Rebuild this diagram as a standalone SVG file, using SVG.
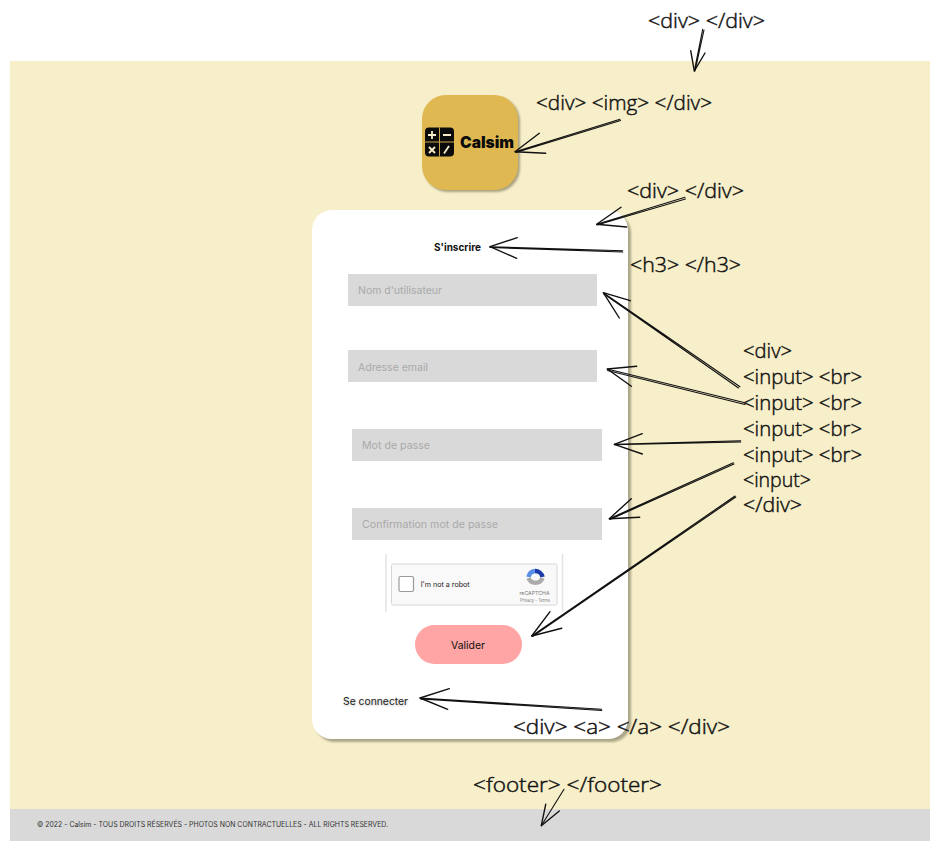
<svg xmlns="http://www.w3.org/2000/svg" width="939" height="850" viewBox="0 0 939 850">
<style>
text{font-family:"Inter","Liberation Sans",sans-serif}
.hand{font-family:"Open Sans","DejaVu Sans",sans-serif;font-size:20px;font-weight:300;fill:#111;stroke:#111;stroke-width:.45}
.ph{font-size:10.5px;fill:#a9a9a9}
.input{fill:#d9d9d9}
.conn path{fill:none;stroke:#111;stroke-linecap:round;stroke-linejoin:round}
.shaft{stroke-width:1.1}
.head{stroke-width:1.4}
</style>
<defs>
<filter id="soft" x="-20%" y="-20%" width="140%" height="140%"><feGaussianBlur stdDeviation="0.8"/></filter>
</defs>
<rect width="939" height="850" fill="#fff"/>
<rect id="page" x="10" y="61" width="920" height="748" fill="#f7efca"/>
<g id="footer">
<rect x="10" y="809" width="920" height="32" fill="#d9d9d9"/>
<text x="37" y="827" font-size="7" fill="#333" textLength="351" lengthAdjust="spacingAndGlyphs">© 2022 - Calsim - TOUS DROITS RÉSERVÉS - PHOTOS NON CONTRACTUELLES - ALL RIGHTS RESERVED.</text>
</g>
<g id="logo">
<rect x="424" y="97" width="96" height="95" rx="24" fill="#a9a27f" filter="url(#soft)"/>
<rect x="422" y="95" width="96" height="95" rx="24" fill="#e0b851"/>
<rect x="425" y="127.500" width="29" height="29" rx="4" fill="#0b0b0b"/>
<path d="M439.500 127.500V156.500M425 142H454" stroke="#e0b851" stroke-width="0.9" fill="none"/>
<path d="M428 135H436M432 131V139M443 135H451M429 147L435 153M435 147L429 153M444 153.500L449 146" stroke="#f6eeca" stroke-width="1.8" fill="none"/>
<text x="460" y="148" font-size="16" font-weight="900" fill="#0b0b0b" textLength="54" lengthAdjust="spacingAndGlyphs">Calsim</text>
</g>
<g id="card">
<rect x="315" y="213" width="316" height="529" rx="20" fill="#aca688" filter="url(#soft)"/>
<rect x="312" y="210" width="316" height="529" rx="20" fill="#fff"/>
</g>
<g id="title"><text x="434" y="251" font-size="10.500" font-weight="700" fill="#111" textLength="47" lengthAdjust="spacingAndGlyphs">S'inscrire</text></g>
<g id="input-username"><rect class="input" x="348" y="274" width="249" height="32"/><text class="ph" x="358" y="294" textLength="84" lengthAdjust="spacingAndGlyphs">Nom d'utilisateur</text></g>
<g id="input-email"><rect class="input" x="348" y="350" width="249" height="32"/><text class="ph" x="358" y="371" textLength="70" lengthAdjust="spacingAndGlyphs">Adresse email</text></g>
<g id="input-password"><rect class="input" x="352" y="429" width="250" height="32"/><text class="ph" x="362" y="449" textLength="68" lengthAdjust="spacingAndGlyphs">Mot de passe</text></g>
<g id="input-confirm"><rect class="input" x="352" y="508" width="250" height="32"/><text class="ph" x="362" y="528" textLength="136" lengthAdjust="spacingAndGlyphs">Confirmation mot de passe</text></g>
<g id="recaptcha">
<path d="M386 554V612M562.500 554V612" stroke="#e4e4e4" stroke-width="1.500" fill="none"/>
<rect x="391.500" y="564" width="165.500" height="41" rx="1.500" fill="#f9f9f9" stroke="#d6d6d6"/>
<rect x="399" y="576.500" width="14.500" height="15" rx="1.500" fill="#fff" stroke="#9a9a9a" stroke-width="1.200"/>
<text x="420.700" y="587" font-family="Liberation Sans" font-size="7.300" fill="#222" textLength="49" lengthAdjust="spacingAndGlyphs">I'm not a robot</text>
<path d="M528.500 577A7.500 7.500 0 0 1 535 571" stroke="#5a8fe6" stroke-width="4.500" fill="none"/>
<path d="M535 571A7.500 7.500 0 0 1 542.500 577" stroke="#1c3aa9" stroke-width="4.500" fill="none"/>
<path d="M542.500 578A7.500 7.500 0 0 1 528.500 578" stroke="#ababab" stroke-width="4.500" fill="none"/>
<text x="519.500" y="594.500" font-family="Liberation Sans" font-size="5.300" fill="#777" textLength="30" lengthAdjust="spacingAndGlyphs">reCAPTCHA</text>
<text x="520" y="601.500" font-family="Liberation Sans" font-size="4.300" fill="#777" textLength="30" lengthAdjust="spacingAndGlyphs">Privacy - Terms</text>
</g>
<g id="submit"><rect x="415" y="625" width="107" height="39" rx="19.500" fill="#ffa5a5"/><text x="451" y="648.500" font-size="10.500" fill="#111" textLength="34" lengthAdjust="spacingAndGlyphs">Valider</text></g>
<g id="login-link"><text x="343.500" y="706" font-size="10.500" fill="#bbb" filter="url(#soft)" textLength="65" lengthAdjust="spacingAndGlyphs">Se connecter</text><text x="343" y="705" font-size="10.500" fill="#222" textLength="65" lengthAdjust="spacingAndGlyphs">Se connecter</text></g>
<g id="connectors" class="conn">
<path class="shaft" d="M702.700 29.300L694.300 71M704 30L695 71"/><path class="head" d="M690.700 50.700L694.300 71L705 53"/>
<path class="shaft" d="M620 119.300L515 151.700M620.500 120.500L516 152.500"/><path class="head" d="M539.300 133.300L515 151.700L545.700 153.300"/>
<path class="shaft" d="M685 197.300L596.700 224.300M685.500 199L597 225"/><path class="head" d="M621 207.300L596.700 224.300L626.700 227"/>
<path class="shaft" d="M622.700 250.700L490 246.700M622.700 252L490 247.500"/><path class="head" d="M517.300 237.700L490 246.700L516.700 258.300"/>
<path class="shaft" d="M740 386.700L603.300 292.700M738.500 388L604 294"/><path class="head" d="M630.300 300.700L603.300 292.700L619.300 318"/>
<path class="shaft" d="M745 402.700L607.300 369M745 404.500L607.500 370.500"/><path class="head" d="M636.700 366.300L607.300 369L631.300 386.300"/>
<path class="shaft" d="M740.700 440.700L614.300 444.300M740.700 442L614.500 444.800"/><path class="head" d="M642.300 433.700L614.300 444.300L642.300 454"/>
<path class="shaft" d="M733.300 462.700L609.300 518.700M734 464L610 519.500"/><path class="head" d="M631.300 498.700L609.300 518.700L639.700 517.300"/>
<path class="shaft" d="M735 496L531.700 636M735.800 497L532.500 636.500"/><path class="head" d="M550 611.700L531.700 636L561.700 628.300"/>
<path class="shaft" d="M601.700 709.300L420 698M601.700 710.500L420.500 699"/><path class="head" d="M449.300 688.700L420 698L447.700 709.300"/>
<path class="shaft" d="M564 789.300L541.300 825.700"/><path class="head" d="M545.700 804.300L541.300 825.700L559.300 811"/>
</g>
<g id="labels">
<text class="hand" x="648" y="28" textLength="117" lengthAdjust="spacingAndGlyphs">&lt;div&gt; &lt;/div&gt;</text>
<text class="hand" x="536" y="110" textLength="176" lengthAdjust="spacingAndGlyphs">&lt;div&gt; &lt;img&gt; &lt;/div&gt;</text>
<text class="hand" x="627" y="198" textLength="117" lengthAdjust="spacingAndGlyphs">&lt;div&gt; &lt;/div&gt;</text>
<text class="hand" x="630" y="272" textLength="111" lengthAdjust="spacingAndGlyphs">&lt;h3&gt; &lt;/h3&gt;</text>
<text class="hand" x="743" y="358" textLength="49" lengthAdjust="spacingAndGlyphs">&lt;div&gt;</text>
<text class="hand" x="743" y="384" textLength="119" lengthAdjust="spacingAndGlyphs">&lt;input&gt; &lt;br&gt;</text>
<text class="hand" x="743" y="410" textLength="119" lengthAdjust="spacingAndGlyphs">&lt;input&gt; &lt;br&gt;</text>
<text class="hand" x="743" y="436" textLength="119" lengthAdjust="spacingAndGlyphs">&lt;input&gt; &lt;br&gt;</text>
<text class="hand" x="743" y="462" textLength="119" lengthAdjust="spacingAndGlyphs">&lt;input&gt; &lt;br&gt;</text>
<text class="hand" x="743" y="487" textLength="68" lengthAdjust="spacingAndGlyphs">&lt;input&gt;</text>
<text class="hand" x="743" y="512" textLength="59" lengthAdjust="spacingAndGlyphs">&lt;/div&gt;</text>
<text class="hand" x="513" y="734" textLength="217" lengthAdjust="spacingAndGlyphs">&lt;div&gt; &lt;a&gt; &lt;/a&gt; &lt;/div&gt;</text>
<text class="hand" x="473" y="792" textLength="189" lengthAdjust="spacingAndGlyphs">&lt;footer&gt; &lt;/footer&gt;</text>
</g>
</svg>
